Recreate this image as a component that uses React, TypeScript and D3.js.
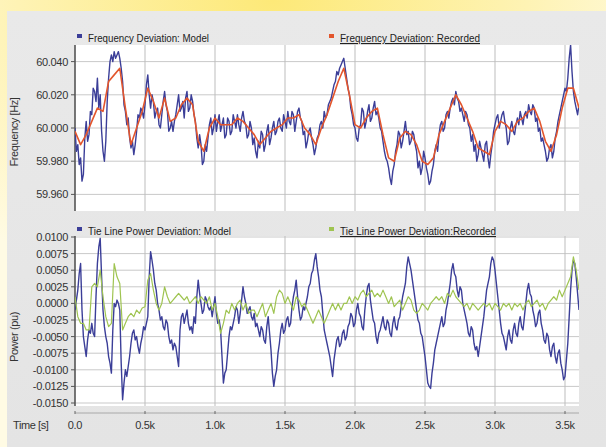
import React from "react";
import * as d3 from "d3";

// ---------- data ----------
const MODEL_STEP = 10; // seconds between model samples
const FREQ_MODEL = [
  60.000, 59.986, 59.990, 59.978, 59.982, 59.968, 59.972, 59.994, 60.004, 59.992, 59.996, 60.010, 60.008, 60.024, 60.022, 60.016, 60.030, 60.012, 60.020, 59.998,
  59.986, 59.980, 59.992, 60.016, 60.030, 60.040, 60.044, 60.040, 60.046, 60.042, 60.044, 60.046, 60.042, 60.036, 60.028, 60.014, 60.010, 60.002, 60.006, 59.994,
  59.988, 59.992, 59.984, 59.990, 59.998, 60.008, 60.006, 60.012, 60.010, 60.006, 60.014, 60.026, 60.032, 60.020, 60.012, 60.020, 60.016, 60.006, 60.010, 60.012,
  60.002, 60.000, 60.008, 60.016, 60.022, 60.014, 60.010, 59.998, 60.000, 60.004, 59.998, 60.004, 60.008, 60.014, 60.020, 60.010, 60.012, 60.016, 60.006, 60.018,
  60.022, 60.010, 60.012, 60.020, 60.016, 60.008, 60.004, 59.994, 59.988, 59.996, 59.990, 59.978, 59.980, 59.990, 59.986, 59.994, 60.002, 60.006, 59.996, 60.000,
  60.008, 59.998, 60.004, 60.008, 59.998, 60.002, 60.006, 59.994, 59.996, 60.006, 60.004, 59.996, 59.998, 60.008, 60.004, 60.000, 60.008, 60.002, 59.998, 60.006,
  60.010, 60.004, 60.002, 59.994, 59.996, 60.004, 60.000, 59.990, 59.994, 59.986, 59.982, 59.992, 59.988, 59.998, 59.996, 59.986, 59.990, 59.998, 60.002, 59.990,
  59.994, 60.000, 60.004, 59.996, 59.998, 60.004, 60.006, 60.000, 59.998, 60.008, 60.004, 60.000, 60.010, 60.004, 60.002, 60.010, 60.008, 59.998, 60.004, 60.010,
  60.012, 60.006, 60.004, 59.996, 59.998, 59.988, 59.992, 59.998, 60.000, 59.994, 59.990, 59.984, 59.988, 59.994, 59.996, 60.002, 60.004, 60.000, 60.010, 60.006,
  60.008, 60.014, 60.016, 60.018, 60.022, 60.026, 60.028, 60.034, 60.032, 60.036, 60.038, 60.040, 60.042, 60.036, 60.030, 60.024, 60.020, 60.012, 60.008, 60.002,
  60.000, 59.994, 59.992, 60.000, 60.002, 60.012, 60.010, 60.000, 60.004, 60.010, 60.014, 60.004, 60.006, 60.012, 60.016, 60.008, 60.010, 60.006, 60.000, 59.998,
  59.992, 59.986, 59.982, 59.980, 59.976, 59.970, 59.966, 59.974, 59.978, 59.986, 59.990, 59.998, 59.996, 59.988, 59.992, 59.998, 60.004, 59.996, 59.998, 59.990,
  59.992, 59.998, 59.996, 59.990, 59.986, 59.976, 59.980, 59.972, 59.976, 59.986, 59.982, 59.976, 59.972, 59.966, 59.968, 59.974, 59.978, 59.986, 59.990, 59.986,
  59.996, 60.002, 60.004, 59.998, 60.000, 60.008, 60.010, 60.006, 60.012, 60.016, 60.018, 60.014, 60.022, 60.018, 60.016, 60.010, 60.012, 60.008, 60.004, 60.010,
  60.008, 60.002, 60.000, 59.992, 59.996, 59.986, 59.990, 59.980, 59.984, 59.992, 59.988, 59.984, 59.980, 59.990, 59.992, 59.982, 59.976, 59.984, 59.990, 59.998,
  60.002, 60.006, 60.008, 60.000, 60.004, 60.008, 60.010, 60.004, 60.000, 59.990, 59.992, 60.000, 60.004, 59.998, 59.996, 60.002, 60.006, 60.002, 60.010, 60.006,
  60.002, 60.008, 60.010, 60.006, 60.014, 60.010, 60.008, 60.014, 60.012, 60.004, 60.006, 59.998, 60.000, 59.992, 59.994, 59.990, 59.986, 59.980, 59.982, 59.988,
  59.990, 59.982, 59.986, 59.994, 59.998, 60.004, 60.008, 60.012, 60.016, 60.020, 60.024, 60.022, 60.030, 60.042, 60.050, 60.034, 60.022, 60.016, 60.012, 60.008,
  60.014,
];

const RECORDED_STEP = 40;
const FREQ_RECORDED = [
  59.998, 59.990, 59.996, 60.004, 60.012, 60.010, 60.028, 60.032, 60.036, 60.012,
  59.990, 60.000, 60.010, 60.024, 60.016, 60.006, 60.018, 60.004, 60.006, 60.014,
  60.018, 60.014, 59.992, 59.986, 60.000, 60.006, 60.002, 60.002, 60.002, 60.006,
  60.004, 60.000, 59.996, 59.990, 59.994, 59.998, 60.000, 60.002, 60.006, 60.006,
  60.008, 60.000, 59.996, 59.990, 60.000, 60.008, 60.018, 60.028, 60.036, 60.020,
  60.002, 60.000, 60.006, 60.010, 60.012, 59.996, 59.982, 59.980, 59.994, 59.998,
  59.996, 59.990, 59.980, 59.978, 59.982, 59.996, 60.004, 60.012, 60.020, 60.014,
  60.006, 59.998, 59.988, 59.986, 59.984, 59.998, 60.004, 60.002, 59.998, 60.004,
  60.006, 60.010, 60.012, 60.004, 59.992, 59.986, 59.996, 60.012, 60.024, 60.024,
  60.012,
];

const TIE_MODEL = [
  -0.0010, 0.0005, 0.0020, 0.0045, 0.0060, -0.0010, -0.0050, -0.0065, -0.0080, -0.0055, -0.0040, -0.0045, -0.0030, -0.0045, -0.0050, 0.0010, 0.0060, 0.0085, 0.0098, 0.0040,
  -0.0010, -0.0035, -0.0050, -0.0060, -0.0080, -0.0090, -0.0105, -0.0040, 0.0000, -0.0005, 0.0005, 0.0000, -0.0010, -0.0090, -0.0145, -0.0120, -0.0100, -0.0110, -0.0095, -0.0080,
  -0.0060, -0.0045, -0.0040, -0.0055, -0.0050, -0.0065, -0.0075, -0.0060, -0.0050, -0.0035, -0.0040, -0.0030, -0.0020, 0.0040, 0.0078, 0.0065, 0.0050, 0.0030, 0.0020, 0.0000,
  -0.0010, -0.0025, -0.0020, -0.0035, -0.0040, -0.0025, -0.0030, -0.0050, -0.0060, -0.0055, -0.0070, -0.0060, -0.0065, -0.0080, -0.0095, -0.0040, -0.0020, -0.0015, -0.0030, -0.0020,
  -0.0010, -0.0030, -0.0040, -0.0035, -0.0045, -0.0020, -0.0030, 0.0010, 0.0035, 0.0015, 0.0000, -0.0015, -0.0010, 0.0010, 0.0005, -0.0005, -0.0010, -0.0005, -0.0020, -0.0005,
  0.0010, -0.0015, -0.0030, -0.0025, -0.0040, -0.0080, -0.0120, -0.0105, -0.0100, -0.0075, -0.0050, -0.0035, -0.0040, -0.0030, -0.0020, -0.0005, -0.0010, -0.0030, -0.0015, 0.0005,
  0.0025, 0.0010, 0.0000, -0.0015, -0.0010, -0.0005, -0.0020, -0.0025, -0.0015, -0.0035, -0.0030, -0.0040, -0.0050, -0.0035, -0.0040, -0.0055, -0.0060, -0.0035, -0.0020, -0.0045,
  -0.0070, -0.0105, -0.0125, -0.0110, -0.0100, -0.0075, -0.0060, -0.0040, -0.0030, -0.0045, -0.0040, -0.0025, -0.0020, -0.0035, -0.0030, -0.0005, 0.0010, 0.0020, 0.0035, 0.0010,
  -0.0010, -0.0025, -0.0020, -0.0005, -0.0010, 0.0000, 0.0010, 0.0025, 0.0030, 0.0045, 0.0050, 0.0065, 0.0075, 0.0055, 0.0040, 0.0020, 0.0010, -0.0015, -0.0040, -0.0050,
  -0.0060, -0.0070, -0.0080, -0.0095, -0.0110, -0.0085, -0.0070, -0.0055, -0.0050, -0.0065, -0.0060, -0.0045, -0.0040, -0.0055, -0.0050, -0.0035, -0.0030, -0.0015, -0.0020, -0.0035,
  -0.0030, -0.0010, 0.0000, -0.0015, -0.0020, -0.0035, -0.0040, -0.0010, 0.0010, 0.0025, 0.0030, 0.0005, -0.0010, -0.0025, -0.0030, -0.0050, -0.0060, -0.0045, -0.0040, -0.0030,
  -0.0020, -0.0035, -0.0040, -0.0025, -0.0030, -0.0045, -0.0050, -0.0030, -0.0020, -0.0035, -0.0040, -0.0025, -0.0020, -0.0005, 0.0010, 0.0020, 0.0030, 0.0055, 0.0070, 0.0060,
  0.0050, 0.0035, 0.0020, 0.0005, -0.0010, -0.0025, -0.0030, -0.0045, -0.0050, -0.0065, -0.0080, -0.0100, -0.0120, -0.0125, -0.0128, -0.0105, -0.0090, -0.0070, -0.0060, -0.0050,
  -0.0040, -0.0030, -0.0020, -0.0035, -0.0030, -0.0010, 0.0000, 0.0015, 0.0030, 0.0050, 0.0060, 0.0045, 0.0040, 0.0020, 0.0010, 0.0025, 0.0020, 0.0000, -0.0010, -0.0020,
  -0.0030, -0.0045, -0.0050, -0.0035, -0.0040, -0.0060, -0.0070, -0.0065, -0.0080, -0.0065, -0.0050, -0.0035, -0.0020, 0.0000, 0.0020, 0.0030, 0.0040, 0.0060, 0.0070, 0.0065,
  0.0050, 0.0030, 0.0010, -0.0010, -0.0030, -0.0045, -0.0050, -0.0060, -0.0070, -0.0050, -0.0040, -0.0055, -0.0060, -0.0040, -0.0030, -0.0045, -0.0050, -0.0030, -0.0020, -0.0035,
  -0.0040, -0.0020, 0.0000, 0.0020, 0.0030, 0.0015, 0.0010, -0.0010, -0.0020, -0.0035, -0.0030, -0.0015, -0.0010, -0.0030, -0.0040, -0.0055, -0.0060, -0.0045, -0.0050, -0.0070,
  -0.0080, -0.0065, -0.0060, -0.0080, -0.0090, -0.0075, -0.0070, -0.0090, -0.0100, -0.0115, -0.0110, -0.0085, -0.0060, -0.0020, 0.0020, 0.0050, 0.0065, 0.0060, 0.0040, 0.0015,
  -0.0010,
];

const TIE_REC_STEP = 20;
const TIE_RECORDED = [
  0.0010, -0.0020, -0.0030, -0.0030, -0.0040, -0.0040, 0.0025, 0.0030, 0.0025, 0.0050,
  0.0010, -0.0020, -0.0035, -0.0030, 0.0060, 0.0040, 0.0030, -0.0040, -0.0030, -0.0020,
  -0.0015, -0.0020, -0.0010, -0.0015, -0.0007, -0.0005, 0.0035, 0.0045, 0.0020, 0.0000,
  -0.0010, 0.0000, 0.0025, 0.0010, 0.0000, 0.0005, 0.0010, 0.0015, 0.0010, 0.0005,
  0.0010, 0.0000, 0.0005, 0.0010, 0.0000, 0.0010, 0.0005, 0.0000, 0.0010, -0.0010,
  0.0000, -0.0020, -0.0045, -0.0030, -0.0010, -0.0015, 0.0000, -0.0010, 0.0000, 0.0005,
  -0.0010, 0.0000, -0.0015, -0.0010, -0.0010, -0.0020, -0.0010, 0.0000, -0.0020, -0.0010,
  0.0000, -0.0015, 0.0010, 0.0020, 0.0015, 0.0000, 0.0010, 0.0000, -0.0010, 0.0010,
  0.0005, -0.0005, 0.0000, -0.0010, -0.0020, -0.0030, -0.0020, -0.0010, -0.0020, -0.0030,
  -0.0020, -0.0010, 0.0000, -0.0010, 0.0000, -0.0010, 0.0000, 0.0000, 0.0010, 0.0000,
  0.0010, 0.0005, 0.0015, 0.0020, 0.0010, 0.0015, 0.0020, 0.0010, 0.0015, 0.0010,
  0.0020, 0.0010, 0.0000, 0.0010, -0.0005, 0.0000, 0.0005, -0.0010, 0.0000, 0.0010,
  0.0005, -0.0010, -0.0015, -0.0010, 0.0000, -0.0005, -0.0010, 0.0000, 0.0005, 0.0010,
  0.0005, 0.0010, 0.0000, 0.0015, 0.0010, 0.0020, 0.0010, 0.0005, 0.0000, -0.0005,
  0.0000, -0.0010, 0.0000, -0.0005, -0.0010, -0.0005, 0.0000, -0.0005, 0.0000, -0.0010,
  0.0000, -0.0005, -0.0010, 0.0000, -0.0005, 0.0000, -0.0010, 0.0000, -0.0005, 0.0000,
  -0.0010, 0.0000, 0.0005, -0.0005, 0.0000, 0.0005, -0.0005, 0.0000, -0.0010, 0.0000,
  0.0005, 0.0010, 0.0005, 0.0020, 0.0010, 0.0020, 0.0030, 0.0040, 0.0070, 0.0050,
  0.0020,
];

const FREQ_TICKS = [60.04, 60.02, 60.0, 59.98, 59.96];
const FREQ_TICK_LABELS = ["60.040", "60.020", "60.000", "59.980", "59.960"];
const POWER_TICKS = [0.01, 0.0075, 0.005, 0.0025, 0, -0.0025, -0.005, -0.0075, -0.01, -0.0125, -0.015];
const POWER_TICK_LABELS = [
  "0.0100", "0.0075", "0.0050", "0.0025", "0.0000", "-0.0025",
  "-0.0050", "-0.0075", "-0.0100", "-0.0125", "-0.0150",
];
const TIME_TICKS = [0, 500, 1000, 1500, 2000, 2500, 3000, 3500];
const TIME_TICK_LABELS = ["0.0", "0.5k", "1.0k", "1.5k", "2.0k", "2.5k", "3.0k", "3.5k"];

const LEGEND_TOP = ["Frequency Deviation: Model", "Frequency Deviation: Recorded"];
const LEGEND_BOTTOM = ["Tie Line Power Deviation: Model", "Tie Line Power Deviation:Recorded"];

// ---------- styling ----------
const W = 606;
const H = 447;
const X0 = 75;
const X1 = 579;
const TOP = { y0: 45, y1: 211 };
const BOT = { y0: 236, y1: 406 };
const C_MODEL = "#3b3e98";
const C_FREQ_REC = "#e3562d";
const C_TIE_REC = "#9fc451";
const FONT = "'Liberation Sans', Arial, sans-serif";

export default function App() {
  const x = d3.scaleLinear().domain([0, 3600]).range([X0, X1]);
  const yF = d3.scaleLinear().domain([59.95, 60.05]).range([TOP.y1, TOP.y0]);
  const yP = d3.scaleLinear().domain([-0.015, 0.01]).range([403, 237]);

  const mk = (step: number, ys: (v: number) => number) =>
    d3
      .line<number>()
      .x((_, i) => x(i * step))
      .y((v) => ys(v));

  const freqModelPath = mk(MODEL_STEP, yF)(FREQ_MODEL) || "";
  const freqRecPath = mk(RECORDED_STEP, yF)(FREQ_RECORDED) || "";
  const tieModelPath = mk(MODEL_STEP, yP)(TIE_MODEL) || "";
  const tieRecPath = mk(TIE_REC_STEP, yP)(TIE_RECORDED) || "";

  const tickText = { fontFamily: FONT, fontSize: 11, fill: "#333", letterSpacing: -0.3 } as const;

  const panel = (
    y0: number,
    y1: number,
    ticks: number[],
    labels: string[],
    ys: (v: number) => number,
    clipId: string
  ) => (
    <g>
      <clipPath id={clipId}>
        <rect x={X0} y={y0} width={X1 - X0} height={y1 - y0} />
      </clipPath>
      <rect x={X0} y={y0} width={X1 - X0} height={y1 - y0} fill="#ffffff" />
      {ticks.map((t, i) => (
        <line key={"h" + i} x1={X0} x2={X1} y1={ys(t)} y2={ys(t)} stroke="#c9c9c9" strokeWidth={1} />
      ))}
      {TIME_TICKS.slice(1).map((t, i) => (
        <line key={"v" + i} x1={x(t)} x2={x(t)} y1={y0} y2={y1} stroke="#bdbdbd" strokeWidth={1} />
      ))}
      <line x1={X0} x2={X0} y1={y0} y2={y1} stroke="#555" strokeWidth={1.6} />
      {ticks.map((t, i) => (
        <g key={"t" + i}>
          <line x1={X0 - 4} x2={X0} y1={ys(t)} y2={ys(t)} stroke="#555" strokeWidth={1} />
          <text x={X0 - 7} y={ys(t) + 4} textAnchor="end" {...tickText}>
            {labels[i]}
          </text>
        </g>
      ))}
    </g>
  );

  const legendItem = (
    sx: number,
    sy: number,
    color: string,
    label: string,
    len: number,
    underline: boolean
  ) => (
    <g>
      <rect x={sx} y={sy} width={5} height={4} fill={color} />
      <text
        x={sx + 11}
        y={sy + 8}
        fontFamily={FONT}
        fontSize={11}
        fill="#222"
        textLength={len}
        lengthAdjust="spacingAndGlyphs"
        textDecoration={underline ? "underline" : undefined}
      >
        {label}
      </text>
    </g>
  );

  return (
    <svg
      width={W}
      height={H}
      viewBox={`0 0 ${W} ${H}`}
      style={{ position: "absolute", left: 0, top: 0, display: "block" }}
    >
      <defs>
        <radialGradient id="glow" cx="0.45" cy="0" r="0.7">
          <stop offset="0" stopColor="#fde978" />
          <stop offset="0.6" stopColor="#fef3b4" />
          <stop offset="1" stopColor="#fffbe4" />
        </radialGradient>
        <linearGradient id="panelGrad" x1="0" y1="0" x2="0" y2="1">
          <stop offset="0" stopColor="#e9e9e9" />
          <stop offset="1" stopColor="#e4e4e4" />
        </linearGradient>
      </defs>
      <rect x={0} y={0} width={W} height={H} fill="url(#glow)" />
      <rect x={7} y={11} width={W - 7} height={H - 11} fill="url(#panelGrad)" />

      {/* top panel */}
      {panel(TOP.y0, TOP.y1, FREQ_TICKS, FREQ_TICK_LABELS, yF, "clipTop")}
      <g clipPath="url(#clipTop)" fill="none" strokeLinejoin="round">
        <path d={freqModelPath} stroke={C_MODEL} strokeWidth={1.4} />
        <path d={freqRecPath} stroke={C_FREQ_REC} strokeWidth={1.6} />
      </g>
      {legendItem(77, 34, C_MODEL, LEGEND_TOP[0], 121, false)}
      {legendItem(329, 34, C_FREQ_REC, LEGEND_TOP[1], 140, true)}

      {/* bottom panel */}
      {panel(BOT.y0, BOT.y1, POWER_TICKS, POWER_TICK_LABELS, yP, "clipBot")}
      <g clipPath="url(#clipBot)" fill="none" strokeLinejoin="round">
        <path d={tieModelPath} stroke={C_MODEL} strokeWidth={1.4} />
        <path d={tieRecPath} stroke={C_TIE_REC} strokeWidth={1.2} />
      </g>
      {legendItem(77, 227, C_MODEL, LEGEND_BOTTOM[0], 143, false)}
      {legendItem(329, 227, C_TIE_REC, LEGEND_BOTTOM[1], 156, true)}

      {/* axis titles */}
      <text
        transform={`translate(18, ${(TOP.y0 + TOP.y1) / 2 + 4}) rotate(-90)`}
        textAnchor="middle"
        fontFamily={FONT}
        fontSize={11}
        fill="#333"
        letterSpacing={-0.4}
      >
        Frequency [Hz]
      </text>
      <text
        transform={`translate(18, ${(BOT.y0 + BOT.y1) / 2 + 16}) rotate(-90)`}
        textAnchor="middle"
        fontFamily={FONT}
        fontSize={11}
        fill="#333"
        letterSpacing={-0.4}
      >
        Power (pu)
      </text>

      {/* time axis */}
      <line x1={X0} x2={X1} y1={413} y2={413} stroke="#a8a8a8" strokeWidth={1} />
      {TIME_TICKS.map((t, i) => (
        <g key={"xt" + i}>
          <line x1={x(t)} x2={x(t)} y1={411} y2={414} stroke="#666" strokeWidth={1} />
          <text x={x(t)} y={429} textAnchor="middle" {...tickText}>
            {TIME_TICK_LABELS[i]}
          </text>
        </g>
      ))}
      <text x={13} y={429} fontFamily={FONT} fontSize={11} fill="#333" letterSpacing={-0.4}>
        Time [s]
      </text>
    </svg>
  );
}
